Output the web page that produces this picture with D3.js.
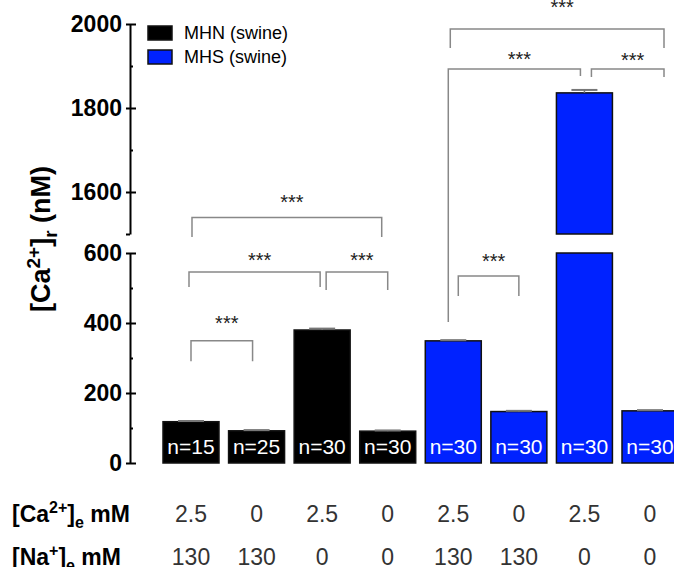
<!DOCTYPE html>
<html>
<head>
<meta charset="utf-8">
<script src="https://cdn.jsdelivr.net/npm/d3@7"></script>
<style>
	body { margin: 0; background: #fff; }
	svg { font-family: "Liberation Sans", Arial, sans-serif; }
</style>
</head>
<body>
<svg id="chart"></svg>
<script>
// bar data
const groups = ["MHN (swine)", "MHS (swine)"];
const barGroup = [0, 0, 0, 0, 1, 1, 1, 1];
const barValues = [118, 92, 380, 91, 349, 147, 1836, 149];
const barErrors = [2, 2, 4, 2, 2, 2, 7, 2];
const nLabels = ["n=15", "n=25", "n=30", "n=30", "n=30", "n=30", "n=30", "n=30"];
const caValues = ["2.5", "0", "2.5", "0", "2.5", "0", "2.5", "0"];
const naValues = ["130", "130", "0", "0", "130", "130", "0", "0"];

// y ticks for the two segments of the broken axis
const lowTicks = [0, 200, 400, 600];
const highTicks = [1600, 1800, 2000];

// significance brackets: bars a..b, bracket level, leg ends, label level
const brackets = [
	{a: 0, b: 1, level: 349, dropA: 291, dropB: 291, label: 380, dxA: 0, dxB: -4},
	{a: 0, b: 2, level: 546, dropA: 503, dropB: 503, label: 560, dxA: -2, dxB: -2},
	{a: 2, b: 3, level: 546, dropA: 494, dropB: 494, label: 560, dxA: 4, dxB: 0},
	{a: 0, b: 3, level: 1539, dropA: 1493, dropB: 1493, label: 1560, dxA: 1, dxB: -6},
	{a: 4, b: 7, level: 1988, dropA: 1943, dropB: 1943, label: 2023, dxA: -3, dxB: 14},
	{a: 4, b: 6, level: 1893, dropA: 403, dropB: 1876, label: 1900, dxA: -5, dxB: -4},
	{a: 6, b: 7, level: 1893, dropA: 1874, dropB: 1874, label: 1898, dxA: 7, dxB: 14},
	{a: 4, b: 5, level: 534, dropA: 477, dropB: 477, label: 557, dxA: 5, dxB: 0}
];

const width = 674, height = 567;
const axisX = 130;
const colors = ["#000000", "#0022ff"];

const svg = d3.select("#chart")
	.attr("width", width)
	.attr("height", height);

const x = d3.scaleBand()
	.domain(d3.range(barValues.length))
	.range([163, 678])
	.paddingInner(0.146)
	.paddingOuter(0);

const yLow = d3.scaleLinear().domain([0, 600]).range([463, 253]);
const yHigh = d3.scaleLinear().domain([1500, 2000]).range([234, 24]);
const y = v => v <= 1000 ? yLow(v) : yHigh(v);

// axes
function drawAxis(scale, labelled, rightTicks, leftTicks){
	svg.append("g")
		.attr("transform", "translate(" + axisX + ",0)")
		.call(d3.axisLeft(scale).tickValues(leftTicks).tickSize(4).tickSizeOuter(0)
			.tickPadding(4)
			.tickFormat(d => labelled.includes(d) ? d : ""))
		.call(g => g.select(".domain").attr("stroke-width", 2))
		.call(g => g.selectAll(".tick line").attr("stroke-width", 2))
		.call(g => g.selectAll("text")
			.attr("font-size", 23)
			.attr("font-weight", "bold")
			.attr("font-family", "'Liberation Sans', Arial, sans-serif")
			.attr("fill", "#000"));
	svg.append("g")
		.attr("transform", "translate(" + axisX + ",0)")
		.call(d3.axisLeft(scale).tickValues(rightTicks.map(t => t.v)).tickSizeOuter(0).tickFormat(""))
		.call(g => g.select(".domain").remove())
		.call(g => g.selectAll(".tick line")
			.attr("stroke-width", 2)
			.attr("x2", (d, i) => rightTicks[i].len));
}

drawAxis(yLow, lowTicks, d3.range(0, 601, 100).map(v => ({v: v, len: v % 200 == 0 ? 6 : 3})), [200, 400, 600, 0]);
drawAxis(yHigh, highTicks, d3.range(1600, 2001, 100).map(v => ({v: v, len: v % 200 == 0 ? 6 : 3})), [1500, 1600, 1800, 2000]);

// y title
const title = svg.append("text")
	.attr("transform", "translate(50," + 239 + ") rotate(-90)")
	.attr("text-anchor", "middle")
	.attr("font-size", 27)
	.attr("font-weight", "bold");
title.append("tspan").text("[Ca");
title.append("tspan").attr("font-size", 19).attr("dy", -10).text("2+");
title.append("tspan").attr("dy", 10).text("]");
title.append("tspan").attr("font-size", 19).attr("dy", 7).text("r");
title.append("tspan").attr("dy", -7).text(" (nM)");

// bars, split at the axis break when needed
const bars = svg.append("g");
barValues.forEach((v, i) => {
	let fill = colors[barGroup[i]];
	let parts = v > 600 ? [[0, 600, yLow], [1500, v, yHigh]] : [[0, v, yLow]];
	for (let p of parts){
		let s = p[2];
		bars.append("rect")
			.attr("x", x(i))
			.attr("y", s(p[1]))
			.attr("width", x.bandwidth())
			.attr("height", s(p[0]) - s(p[1]))
			.attr("fill", fill)
			.attr("stroke", "#111")
			.attr("stroke-width", 1.5);
	}
	// error bar (upper)
	let cx = x(i) + x.bandwidth() / 2;
	let top = v + barErrors[i];
	bars.append("line")
		.attr("x1", cx).attr("x2", cx)
		.attr("y1", y(v)).attr("y2", y(top))
		.attr("stroke", "#777").attr("stroke-width", 1.5);
	bars.append("line")
		.attr("x1", cx - 13).attr("x2", cx + 13)
		.attr("y1", y(top)).attr("y2", y(top))
		.attr("stroke", "#777").attr("stroke-width", 2);
});

// n labels
svg.append("g").selectAll("text")
	.data(nLabels)
	.join("text")
	.attr("x", (d, i) => x(i) + x.bandwidth() / 2)
	.attr("y", 454)
	.attr("text-anchor", "middle")
	.attr("fill", "#fff")
	.attr("font-size", 21)
	.text(d => d);

// brackets
const bg = svg.append("g");
for (let b of brackets){
	let xa = x(b.a) + x.bandwidth() / 2 + b.dxA;
	let xb = x(b.b) + x.bandwidth() / 2 + b.dxB;
	bg.append("path")
		.attr("d", "M" + xa + "," + y(b.dropA) + "V" + y(b.level) + "H" + xb + "V" + y(b.dropB))
		.attr("fill", "none")
		.attr("stroke", "#888")
		.attr("stroke-width", 1.5);
	bg.append("text")
		.attr("x", (xa + xb) / 2 + 5)
		.attr("y", y(b.label))
		.attr("text-anchor", "middle")
		.attr("font-size", 20)
		.attr("fill", "#222")
		.text("***");
}

// legend
const legend = svg.append("g").attr("transform", "translate(148,26)");
groups.forEach((g, i) => {
	legend.append("rect")
		.attr("x", 0).attr("y", i * 24)
		.attr("width", 24).attr("height", 14)
		.attr("fill", colors[i])
		.attr("stroke", "#111")
		.attr("stroke-width", 1.5);
	legend.append("text")
		.attr("x", 36).attr("y", i * 24 + 13)
		.attr("font-size", 18)
		.text(g);
});

// condition table below the bars
function tableRow(yBase, ion, sup, values){
	let lab = svg.append("text")
		.attr("x", 12).attr("y", yBase)
		.attr("font-size", 23)
		.attr("font-weight", "bold");
	lab.append("tspan").text("[" + ion);
	lab.append("tspan").attr("font-size", 16).attr("dy", -9).text(sup);
	lab.append("tspan").attr("dy", 9).text("]");
	lab.append("tspan").attr("font-size", 16).attr("dy", 6).text("e");
	lab.append("tspan").attr("dy", -6).text(" mM");
	svg.append("g").selectAll("text")
		.data(values)
		.join("text")
		.attr("x", (d, i) => x(i) + x.bandwidth() / 2)
		.attr("y", yBase)
		.attr("text-anchor", "middle")
		.attr("font-size", 23)
		.attr("fill", "#333")
		.text(d => d);
}
tableRow(522, "Ca", "2+", caValues);
tableRow(565, "Na", "+", naValues);
</script>
</body>
</html>
